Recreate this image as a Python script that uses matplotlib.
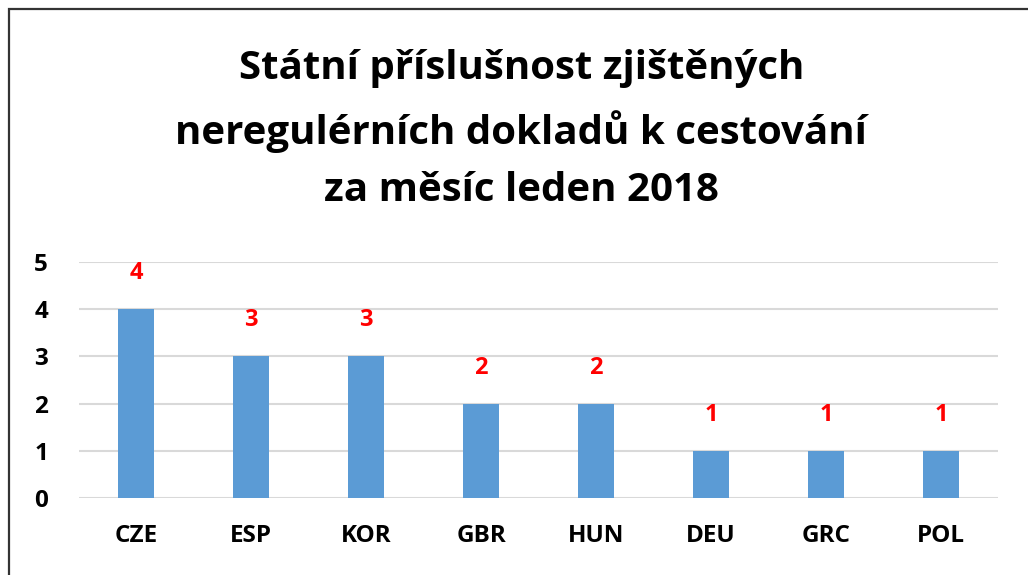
import matplotlib.pyplot as plt
from matplotlib.patches import Rectangle

# Data
countries = ['CZE', 'ESP', 'KOR', 'GBR', 'HUN', 'DEU', 'GRC', 'POL']
counts = [4, 3, 3, 2, 2, 1, 1, 1]
title = 'Státní příslušnost zjištěných\nneregulérních dokladů k cestování\nza měsíc leden 2018'

plt.rcParams['font.family'] = ['Open Sans', 'DejaVu Sans']

fig = plt.figure(figsize=(10.28, 5.75), dpi=100)
ax = fig.add_axes([0.0764, 0.1339, 0.8949, 0.4104])

bars = ax.bar(countries, counts, width=0.31, color='#5b9bd5', zorder=3)
for b, v in zip(bars, counts):
    ax.annotate(str(v), (b.get_x() + b.get_width() / 2, v), xytext=(0, 26),
                textcoords='offset points', ha='center', va='center',
                color='#ff0000', fontsize=17, fontweight='bold')

ax.set_xlim(-0.5, len(countries) - 0.5)
ax.set_ylim(0, 5)
ax.set_yticks(range(6))
ax.yaxis.grid(True, color='#d9d9d9', linewidth=1.5, zorder=0)
ax.set_axisbelow(True)
for s in ax.spines.values():
    s.set_visible(False)
ax.tick_params(axis='both', length=0, labelsize=17.5)
ax.tick_params(axis='x', pad=19)
ax.tick_params(axis='y', pad=22)
for lbl in ax.get_xticklabels() + ax.get_yticklabels():
    lbl.set_fontweight('bold')

fig.text(0.507, 0.774, title, ha='center', va='center', fontsize=29,
         fontweight='bold', linespacing=1.63)

# outer frame (cut off at right and bottom)
fig.patches.append(Rectangle((0.0088, -0.1), 1.2, 1.0843, transform=fig.transFigure,
                             fill=False, edgecolor='#333333', linewidth=1.6))

fig.savefig('out.png', dpi=100)
